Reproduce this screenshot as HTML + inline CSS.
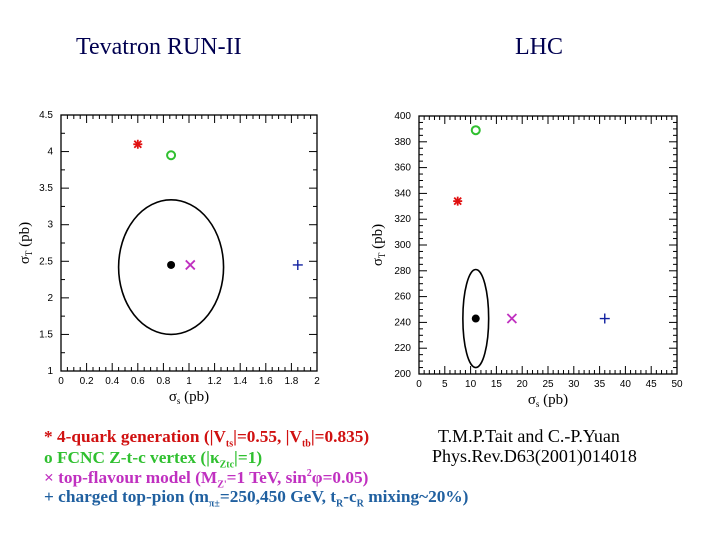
<!DOCTYPE html>
<html><head><meta charset="utf-8"><style>
body{margin:0;background:#fff;width:720px;height:540px;overflow:hidden;position:relative;font-family:"Liberation Serif",serif}
.t{position:absolute;color:#000050;font-size:24px;white-space:nowrap}
.lg{position:absolute;left:44px;font-size:17.3px;font-weight:bold;white-space:nowrap;line-height:20px;height:20px}
.ref{position:absolute;font-size:18px;color:#000;white-space:nowrap}
sub,sup{font-size:10px;line-height:0}
</style></head><body>
<div class="t" style="left:76px;top:34px">Tevatron RUN-II</div>
<div class="t" style="left:515px;top:34px">LHC</div>
<svg id="svg" width="720" height="540" style="position:absolute;left:0;top:0"></svg>
<div class="lg" style="top:427px;color:#d01010">* 4-quark generation (|V<sub>ts</sub>|=0.55, |V<sub>tb</sub>|=0.835)</div>
<div class="lg" style="top:448px;color:#30c030">o FCNC Z-t-c vertex (|κ<sub>Ztc</sub>|=1)</div>
<div class="lg" style="top:468px;color:#c030c0">× top-flavour model (M<sub>Z'</sub>=1 TeV, sin<sup>2</sup>φ=0.05)</div>
<div class="lg" style="top:487px;color:#2060a0">+ charged top-pion (m<sub>π±</sub>=250,450 GeV, t<sub>R</sub>-c<sub>R</sub> mixing~20%)</div>
<div class="ref" style="left:438px;top:426px">T.M.P.Tait and C.-P.Yuan</div>
<div class="ref" style="left:432px;top:446px">Phys.Rev.D63(2001)014018</div>
<script>
const tevX=[0.6,0.86,0.86,1.01,1.85];
const tevY=[4.1,3.95,2.45,2.45,2.45];
const lhcX=[7.5,11,11,18,36];
const lhcY=[334,389,243,243,243];
const kinds=['star','circle','dot','cross','plus'];
const tevEll=[0.86,2.42,0.41,0.92];
const lhcEll=[11,243,2.5,38];
const tevXTicks=[0,0.2,0.4,0.6,0.8,1,1.2,1.4,1.6,1.8,2];
const tevYTicks=[1,1.5,2,2.5,3,3.5,4,4.5];
const lhcXTicks=[0,5,10,15,20,25,30,35,40,45,50];
const lhcYTicks=[200,220,240,260,280,300,320,340,360,380,400];
const svg=document.getElementById('svg');
const NS='http://www.w3.org/2000/svg';
function mk(t,a){const e=document.createElementNS(NS,t);for(const k in a)e.setAttribute(k,a[k]);svg.appendChild(e);return e;}
function plot(p){
  const sx=v=>p.x0+(v-p.xmin)/(p.xmax-p.xmin)*(p.x1-p.x0);
  const sy=v=>p.y1-(v-p.ymin)/(p.ymax-p.ymin)*(p.y1-p.y0);
  let r=mk('rect',{x:p.x0,y:p.y0,width:p.x1-p.x0,height:p.y1-p.y0,fill:'none',stroke:'#000','stroke-width':1.3});
  
  for(let v=p.xmin;v<=p.xmax+1e-9;v+=p.xminor){const x=sx(v);const maj=Math.abs(v/p.xmajor-Math.round(v/p.xmajor))<1e-6;const L=maj?8:4;
    mk('line',{x1:x,x2:x,y1:p.y1,y2:p.y1-L,stroke:'#000'});mk('line',{x1:x,x2:x,y1:p.y0,y2:p.y0+L,stroke:'#000'});}
  for(let v=p.ymin;v<=p.ymax+1e-9;v+=p.yminor){const y=sy(v);const maj=Math.abs(v/p.ymajor-Math.round(v/p.ymajor))<1e-6;const L=maj?8:4;
    mk('line',{x1:p.x0,x2:p.x0+L,y1:y,y2:y,stroke:'#000'});mk('line',{x1:p.x1,x2:p.x1-L,y1:y,y2:y,stroke:'#000'});}
  p.xt.forEach(v=>{const t=mk('text',{x:sx(v),y:p.y1+13,'font-size':10,'text-anchor':'middle','font-family':'Liberation Sans,sans-serif'});t.textContent=v;
    });
  p.yt.forEach(v=>{const t=mk('text',{x:p.x0-8,y:sy(v)+3,'font-size':10,'text-anchor':'end','font-family':'Liberation Sans,sans-serif'});t.textContent=v;
    });
  let xt=mk('text',{x:(p.x0+p.x1)/2,y:p.y1+30,'font-size':15,'text-anchor':'middle','font-family':'Liberation Serif,serif'});
  xt.innerHTML='σ<tspan font-size="9" dy="3">s</tspan><tspan dy="-3">  (pb)</tspan>';
  
  let yt=mk('text',{x:0,y:0,'font-size':15,'text-anchor':'middle','font-family':'Liberation Serif,serif',transform:`translate(${p.x0-p.ytOff},${(p.y0+p.y1)/2}) rotate(-90)`});
  yt.innerHTML='σ<tspan font-size="9" dy="3">T</tspan><tspan dy="-3">  (pb)</tspan>';
  
  const e=p.ell;
  let el=mk('ellipse',{cx:sx(e[0]),cy:sy(e[1]),rx:Math.abs(sx(e[0]+e[2])-sx(e[0])),ry:Math.abs(sy(e[1]+e[3])-sy(e[1])),fill:'none',stroke:'#000','stroke-width':1.6});
  
  p.xs.forEach((xv,i)=>{const x=sx(xv),y=sy(p.ys[i]);const k=kinds[i];let g;
    if(k==='star'){g=mk('g',{stroke:'#e01010','stroke-width':1.8});[[-4.5,0,4.5,0],[0,-4.5,0,4.5],[-3.5,-3.5,3.5,3.5],[-3.5,3.5,3.5,-3.5]].forEach(s=>{const l=document.createElementNS(NS,'line');l.setAttribute('x1',x+s[0]);l.setAttribute('y1',y+s[1]);l.setAttribute('x2',x+s[2]);l.setAttribute('y2',y+s[3]);g.appendChild(l);});}
    else if(k==='circle'){g=mk('circle',{cx:x,cy:y,r:4,fill:'none',stroke:'#30c030','stroke-width':2});}
    else if(k==='dot'){g=mk('circle',{cx:x,cy:y,r:4,fill:'#000'});}
    else if(k==='cross'){g=mk('path',{d:`M${x-4.5} ${y-4.5}L${x+4.5} ${y+4.5}M${x-4.5} ${y+4.5}L${x+4.5} ${y-4.5}`,stroke:'#c030c0','stroke-width':1.8});}
    else {g=mk('path',{d:`M${x-5} ${y}L${x+5} ${y}M${x} ${y-5}L${x} ${y+5}`,stroke:'#1020a0','stroke-width':1.4});}
    });
}
plot({name:'tevatron',x0:61,x1:317,y0:115,y1:371,xmin:0,xmax:2,ymin:1,ymax:4.5,xminor:0.05,xmajor:0.2,yminor:0.25,ymajor:0.5,xt:tevXTicks,yt:tevYTicks,xs:tevX,ys:tevY,ell:tevEll,ytOff:32});
plot({name:'lhc',x0:419,x1:677,y0:116,y1:374,xmin:0,xmax:50,ymin:200,ymax:400,xminor:1,xmajor:5,yminor:5,ymajor:20,xt:lhcXTicks,yt:lhcYTicks,xs:lhcX,ys:lhcY,ell:lhcEll,ytOff:37});
</script>
</body></html>
